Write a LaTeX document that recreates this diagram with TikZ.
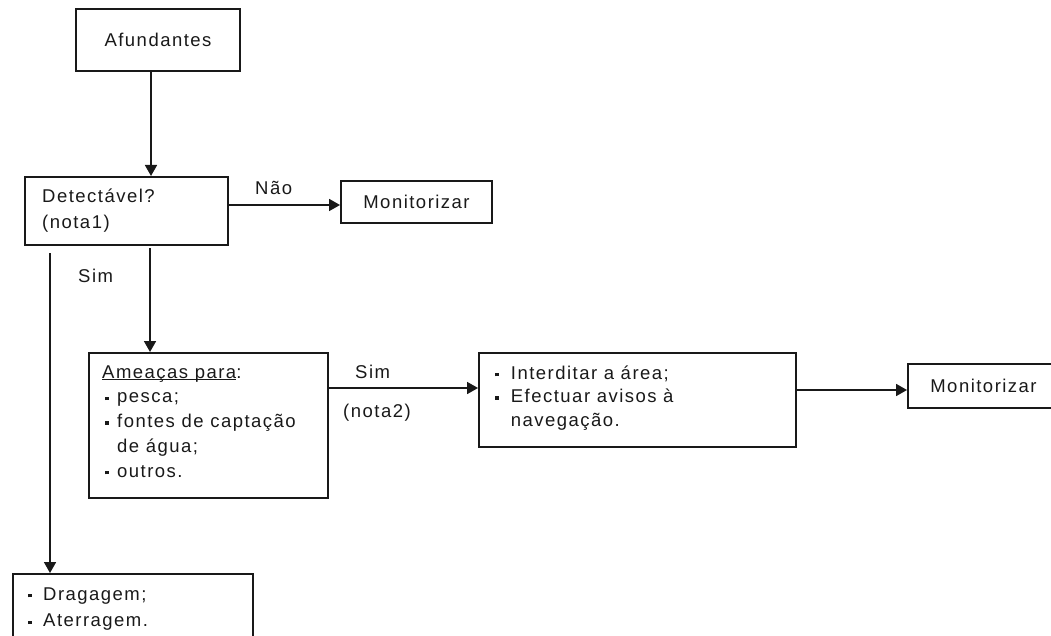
\documentclass[tikz,border=0pt]{standalone}
\usepackage{fontspec}
\setmainfont{Liberation Sans}[LetterSpace=8]
\usetikzlibrary{arrows.meta}
% small square bullet set in a box of the given width
\newcommand\bulsq[1]{\makebox[#1][l]{\rule[2.7pt]{3.5pt}{3.5pt}}}
% underline drawn close to the baseline
\newcommand\undl[1]{\setbox0\hbox{#1}\rlap{\rule[-2.3pt]{\wd0}{1.1pt}}\box0}
\begin{document}
\begin{tikzpicture}[x=1pt,y=-1pt,
  box/.style={draw=black!90, line width=2pt, rectangle, inner sep=0pt,
    anchor=north west, text=black!90},
  txt/.style={inner sep=0pt, anchor=base west, align=left, text=black!90},
  arr/.style={draw=black!90, line width=1.8pt, -{Triangle[length=11pt,width=12pt]}},
  font=\fontsize{18.5pt}{25pt}\selectfont]
\useasboundingbox (0,0) rectangle (1051,636);

% top of the chart (multi-line texts are placed by the baseline of their last line)
\node[box, minimum width=164pt, minimum height=62pt] (afund) at (75,8) {Afundantes};
\node[box, minimum width=203pt, minimum height=68pt] (det) at (24,176) {};
\node[txt, font=\fontsize{18.5pt}{26pt}\selectfont] (detT) at (42,228.5) {Detectável?\\(nota1)};
\draw[arr] ([xshift=-7pt]afund.south) -- ([xshift=-7pt]afund.south |- det.north);

% "no" branch
\node[box, minimum width=151pt, minimum height=42pt] (mon1) at (340,180) {Monitorizar};
\node[txt] (nao) at (255,195) {Não};
\draw[arr] ([yshift=6pt]det.east) -- ([yshift=6pt]det.east -| mon1.west);

% "yes" branches
\node[txt] (sim1) at (78,282) {Sim};
\node[box, minimum width=239pt, minimum height=145pt] (ame) at (88,352) {};
\node[txt, font=\fontsize{18.5pt}{24.75pt}\selectfont] (ameT) at (102,477)
  {\undl{Ameaças para}:\\
   \hspace*{3pt}\bulsq{12pt}pesca;\\
   \hspace*{3pt}\bulsq{12pt}fontes de captação\\
   \hspace*{15pt}de água;\\
   \hspace*{3pt}\bulsq{12pt}outros.};
\coordinate (dr) at (150,248);
\draw[arr] (dr) -- (dr |- ame.north);

\node[box, minimum width=240pt, minimum height=80pt] (drag) at (12,573) {};
\node[txt, font=\fontsize{18.5pt}{26.7pt}\selectfont] (dragT) at (28,626.7)
  {\bulsq{15pt}Dragagem;\\\bulsq{15pt}Aterragem.};
\coordinate (dl) at (50,253);
\draw[arr] (dl) -- (dl |- drag.north);

% threats branch
\node[box, minimum width=317pt, minimum height=94pt] (int) at (478,352) {};
\node[txt, font=\fontsize{18.5pt}{23.5pt}\selectfont] (intT) at (495,426)
  {\bulsq{15.7pt}Interditar a área;\\
   \bulsq{15.7pt}Efectuar avisos à\\
   \hspace*{15.7pt}navegação.};
\node[txt] (sim2) at (355,378) {Sim};
\node[txt] (nota2) at (343,417) {(nota2)};
\draw[arr] ([yshift=37.5pt]ame.east) -- ([yshift=37.5pt]ame.east -| int.west);

\node[box, minimum width=151pt, minimum height=44pt] (mon2) at (907,363) {Monitorizar};
\draw[arr] ([yshift=10pt]int.east) -- ([yshift=10pt]int.east -| mon2.west);
\end{tikzpicture}
\end{document}
